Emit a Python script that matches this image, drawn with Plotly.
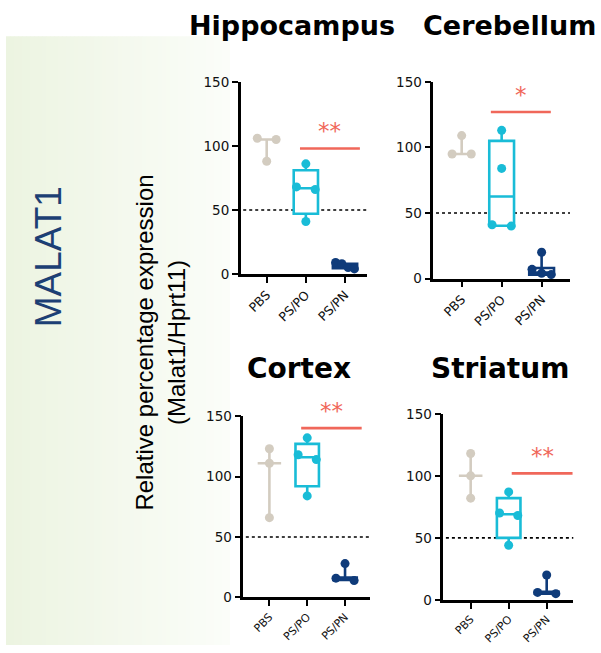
import plotly.graph_objects as go

# ---------------- data ----------------
categories = ["PBS", "PS/PO", "PS/PN"]
regions = ["Hippocampus", "Cerebellum", "Cortex", "Striatum"]

hippocampus_points = [[106, 105, 88], [86, 68, 66, 41], [9, 8, 5, 4]]
cerebellum_points = [[109, 95, 95], [113, 84, 41, 40], [20, 7, 4, 3]]
cortex_points = [[123, 111, 66], [132, 118, 114, 84], [28, 16, 14]]
striatum_points = [[118, 100, 82], [87, 70, 68, 44], [20, 6, 5]]

hippocampus_q1 = [105, 47, 4.5]
hippocampus_median = [105, 67, 6]
hippocampus_q3 = [105, 81, 8]

cerebellum_q1 = [95, 40.2, 3]
cerebellum_median = [95, 62.5, 4.5]
cerebellum_q3 = [95, 105, 8]

cortex_q1 = [111, 92, 14.5]
cortex_median = [111, 116, 15.5]
cortex_q3 = [111, 127, 16.5]

striatum_q1 = [100, 50, 5]
striatum_median = [100, 69, 5.5]
striatum_q3 = [100, 82, 6.5]

reference_level = 50
y_ticks = [0, 50, 100, 150]

sig_labels = ["**", "*", "**", "**"]
sig_y = [98, 127, 140, 102]
sig_x0 = [0.85, 0.73, 0.84, 1.08]
sig_x1 = [2.38, 2.23, 2.44, 2.68]

# ---------------- style ----------------
W, H = 601, 653
group_colors = ["#d3ccc0", "#19bcd7", "#0f3b7a"]
sig_color = "#f0675a"
gene_color = "#1c3f74"

# panel frames in pixels: (left, right, top(150), bottom(0), xmin, xmax)
panel_px = [
    (240.7, 366.7, 75.7, 272.7, -0.664, 2.554),
    (433.3, 570.0, 75.7, 277.3, -0.71, 2.71),
    (243.3, 370.0, 418.3, 604.3, -0.69, 2.66),
    (443.3, 573.3, 416.0, 606.7, -0.72, 2.70),
]
xtick_size = [12.5, 12.5, 11, 11]
title_px = [(292, 18, 27), (509.5, 18, 27), (299, 370, 28), (499.5, 370, 28)]

all_points = [hippocampus_points, cerebellum_points, cortex_points, striatum_points]
all_q1 = [hippocampus_q1, cerebellum_q1, cortex_q1, striatum_q1]
all_med = [hippocampus_median, cerebellum_median, cortex_median, striatum_median]
all_q3 = [hippocampus_q3, cerebellum_q3, cortex_q3, striatum_q3]


def px(x):
    return x / W


def py(y):
    return 1 - y / H


def swarm_offsets(values, tol=6.0, step=0.24):
    order = sorted(range(len(values)), key=lambda i: -values[i])
    clusters = []
    for i in order:
        if clusters and values[clusters[-1][-1]] - values[i] <= tol:
            clusters[-1].append(i)
        else:
            clusters.append([i])
    offs = [0.0] * len(values)
    for cl in clusters:
        k = len(cl)
        if k > 1:
            for j, i in enumerate(cl):
                offs[i] = -step + 2 * step * j / (k - 1)
    return offs


fig = go.Figure()
shapes = []
annotations = []

# light green gradient panel on the left
n_strips = 56
gx0, gx1 = 6, 230
c0 = (236, 244, 225)
c1 = (251, 253, 249)
for s in range(n_strips):
    t = s / (n_strips - 1)
    col = tuple(round(c0[k] + (c1[k] - c0[k]) * t) for k in range(3))
    xa = gx0 + (gx1 - gx0) * s / n_strips
    xb = gx0 + (gx1 - gx0) * (s + 1) / n_strips + 0.6
    shapes.append(dict(type="rect", xref="paper", yref="paper",
                       x0=px(xa), x1=px(min(xb, gx1)), y0=0, y1=py(29),
                       fillcolor="rgb(%d,%d,%d)" % col, line=dict(width=0),
                       layer="below"))

layout_axes = {}
for r, region in enumerate(regions):
    suffix = "" if r == 0 else str(r + 1)
    xname, yname = "x" + suffix, "y" + suffix
    left, right, top, bottom, xmin, xmax = panel_px[r]

    layout_axes["xaxis" + suffix] = dict(
        domain=[px(left), px(right)], anchor=yname, range=[xmin, xmax],
        tickmode="array", tickvals=list(range(len(categories))), ticktext=categories,
        tickangle=-45, ticks="outside", ticklen=6, tickwidth=2, tickcolor="black",
        showline=True, linewidth=2.5, linecolor="black", showgrid=False, zeroline=False,
        tickfont=dict(family="DejaVu Sans", size=xtick_size[r], color="#111"),
        fixedrange=True)
    layout_axes["yaxis" + suffix] = dict(
        domain=[py(bottom), py(top)], anchor=xname, range=[0, 150],
        tickmode="array", tickvals=y_ticks,
        ticks="outside", ticklen=6, tickwidth=2, tickcolor="black",
        showline=True, linewidth=2.5, linecolor="black", showgrid=False, zeroline=False,
        tickfont=dict(family="DejaVu Sans", size=13.5, color="#111"), fixedrange=True)

    # dotted 50 % reference line
    shapes.append(dict(type="line", xref=xname + " domain", yref=yname,
                       x0=0.02, x1=1, y0=reference_level, y1=reference_level,
                       line=dict(color="black", width=1.6, dash="dot"), layer="below"))

    for c, cat in enumerate(categories):
        pts = all_points[r][c]
        colr = group_colors[c]
        fig.add_trace(go.Box(
            x=[c], q1=[all_q1[r][c]], median=[all_med[r][c]], q3=[all_q3[r][c]],
            lowerfence=[min(pts)], upperfence=[max(pts)],
            width=0.62, whiskerwidth=0, fillcolor="white",
            line=dict(color=colr, width=2.6), boxpoints=False,
            xaxis=xname, yaxis=yname, showlegend=False, hoverinfo="skip"))
        offs = swarm_offsets(pts)
        fig.add_trace(go.Scatter(
            x=[c + o for o in offs], y=pts, mode="markers",
            marker=dict(color=colr, size=9, line=dict(width=0)),
            xaxis=xname, yaxis=yname, showlegend=False, cliponaxis=False,
            hoverinfo="skip"))

    # significance bar and stars
    shapes.append(dict(type="line", xref=xname, yref=yname,
                       x0=sig_x0[r], x1=sig_x1[r], y0=sig_y[r], y1=sig_y[r],
                       line=dict(color=sig_color, width=2.6), layer="above"))
    annotations.append(dict(xref=xname, yref=yname,
                            x=(sig_x0[r] + sig_x1[r]) / 2, y=sig_y[r],
                            text=sig_labels[r], showarrow=False, yanchor="bottom",
                            yshift=2,
                            font=dict(family="DejaVu Sans", size=23, color=sig_color)))

    # panel title
    tx, tyy, tsize = title_px[r]
    annotations.append(dict(xref="paper", yref="paper", x=px(tx), y=py(tyy),
                            text="<b>%s</b>" % region, showarrow=False,
                            xanchor="center", yanchor="middle",
                            font=dict(family="DejaVu Sans", size=tsize, color="black")))

# gene label and shared y title
annotations.append(dict(xref="paper", yref="paper", x=px(48.5), y=py(255),
                        text="MALAT1", textangle=-90, showarrow=False,
                        xanchor="center", yanchor="middle",
                        font=dict(family="Liberation Sans", size=37, color=gene_color)))
annotations.append(dict(xref="paper", yref="paper", x=px(160), y=py(343),
                        text="Relative percentage expression<br>(Malat1/Hprt11)",
                        textangle=-90, showarrow=False,
                        xanchor="center", yanchor="middle",
                        font=dict(family="Liberation Sans", size=24, color="black")))

fig.update_layout(
    width=W, height=H, margin=dict(l=0, r=0, t=0, b=0),
    paper_bgcolor="white", plot_bgcolor="rgba(0,0,0,0)",
    shapes=shapes, annotations=annotations, showlegend=False,
    boxmode="overlay",
    **layout_axes)

fix_page = """
var gd = document.getElementById('{plot_id}');
var box = 'margin:0;padding:0;overflow:hidden;width:601px;height:653px;';
document.documentElement.style.cssText = box;
document.body.style.cssText = box;
gd.style.position = 'fixed';
gd.style.left = '0px';
gd.style.top = '0px';
gd.style.overflow = 'hidden';
"""

fig.write_html("out.html", config={"displayModeBar": False}, post_script=fix_page)
